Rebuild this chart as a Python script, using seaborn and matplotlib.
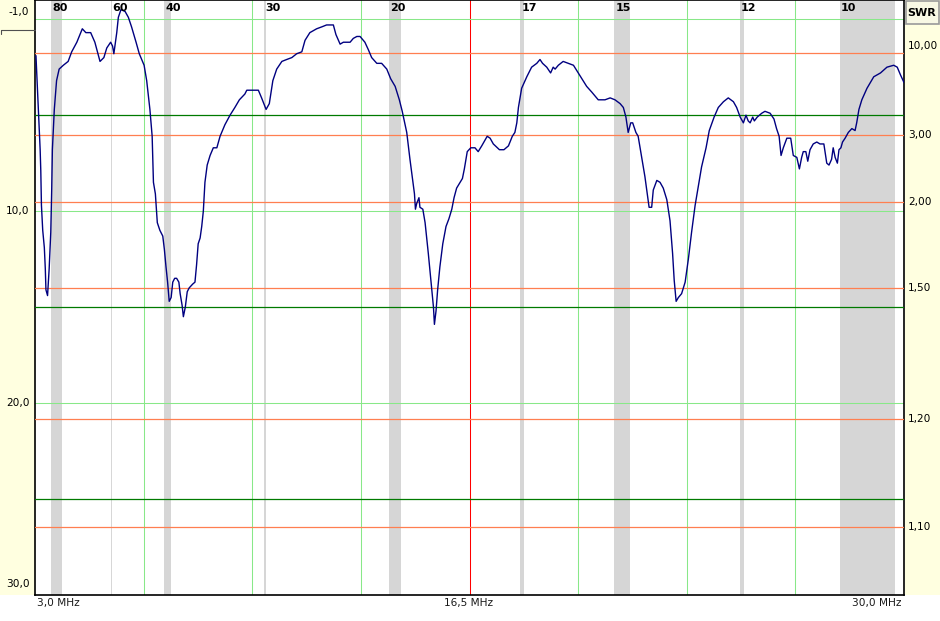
import numpy as np
import pandas as pd
import seaborn as sns
import matplotlib.pyplot as plt
from matplotlib.patches import Rectangle
from matplotlib.lines import Line2D

# Sweep: frequency (MHz) and return loss (dB)
freq_mhz = [
    3.03, 3.16, 3.18, 3.20, 3.24, 3.29, 3.32, 3.34, 3.39, 3.44, 3.49, 3.52, 3.54, 3.60, 3.67,
    3.75, 3.88, 4.03, 4.14, 4.30, 4.47, 4.58, 4.73, 4.86, 5.02, 5.14, 5.23, 5.35, 5.41, 5.45,
    5.49, 5.54, 5.59, 5.67, 5.80, 5.90, 6.00, 6.14, 6.24, 6.39, 6.47, 6.57, 6.64, 6.68, 6.74,
    6.80, 6.88, 6.97, 7.02, 7.07, 7.12, 7.17, 7.23, 7.28, 7.34, 7.40, 7.47, 7.51, 7.57, 7.61,
    7.67, 7.73, 7.79, 7.90, 7.97, 8.02, 8.07, 8.13, 8.18, 8.23, 8.28, 8.35, 8.44, 8.54, 8.65,
    8.75, 8.90, 9.06, 9.21, 9.35, 9.52, 9.58, 9.78, 9.94, 10.04, 10.18, 10.28, 10.39, 10.51, 10.67,
    10.82, 10.98, 11.13, 11.29, 11.39, 11.54, 11.75, 11.91, 12.06, 12.27, 12.35, 12.48, 12.58, 12.69, 12.79,
    12.89, 13.00, 13.10, 13.25, 13.36, 13.46, 13.62, 13.77, 13.93, 14.05, 14.19, 14.32, 14.41, 14.55, 14.65,
    14.72, 14.79, 14.82, 14.86, 14.93, 14.96, 15.05, 15.12, 15.22, 15.30, 15.34, 15.38, 15.41, 15.46, 15.51,
    15.58, 15.67, 15.77, 15.86, 15.95, 16.02, 16.10, 16.21, 16.28, 16.34, 16.43, 16.54, 16.67, 16.77, 16.88,
    16.98, 17.05, 17.14, 17.24, 17.43, 17.57, 17.71, 17.83, 17.91, 17.97, 18.02, 18.12, 18.28, 18.43, 18.59,
    18.69, 18.77, 18.90, 19.02, 19.10, 19.16, 19.26, 19.41, 19.57, 19.73, 19.88, 19.99, 20.14, 20.30, 20.50,
    20.71, 20.87, 21.02, 21.18, 21.28, 21.36, 21.43, 21.51, 21.57, 21.67, 21.74, 21.85, 21.95, 22.04, 22.08,
    22.16, 22.21, 22.32, 22.42, 22.52, 22.63, 22.73, 22.81, 22.86, 22.92, 22.99, 23.09, 23.20, 23.30, 23.40,
    23.51, 23.61, 23.71, 23.85, 23.95, 24.10, 24.23, 24.39, 24.54, 24.70, 24.80, 24.91, 25.01, 25.09, 25.16,
    25.22, 25.30, 25.35, 25.44, 25.58, 25.68, 25.84, 25.96, 26.04, 26.12, 26.18, 26.25, 26.36, 26.48, 26.56,
    26.67, 26.75, 26.82, 26.87, 26.95, 27.01, 27.08, 27.18, 27.29, 27.39, 27.51, 27.60, 27.67, 27.75, 27.80,
    27.86, 27.93, 27.98, 28.04, 28.09, 28.17, 28.27, 28.38, 28.48, 28.53, 28.60, 28.69, 28.85, 29.06, 29.27,
    29.47, 29.68, 29.79, 29.89, 30.00,
]
return_loss_db = [
    1.9, 6.8, 7.9, 9.7, 11.0, 11.9, 13.0, 14.1, 14.4, 13.0, 11.1, 8.8, 6.8, 4.7, 3.2,
    2.6, 2.4, 2.2, 1.7, 1.2, 0.5, 0.7, 0.7, 1.2, 2.2, 2.0, 1.5, 1.2, 1.4, 1.8,
    1.3, 0.7, -0.1, -0.5, -0.4, -0.1, 0.4, 1.2, 1.8, 2.4, 3.2, 4.7, 6.1, 8.5, 9.1,
    10.6, 11.0, 11.3, 12.0, 12.9, 13.7, 14.7, 14.5, 13.7, 13.5, 13.5, 13.7, 14.3, 14.9, 15.5,
    15.0, 14.2, 14.0, 13.8, 13.7, 12.8, 11.7, 11.4, 10.8, 10.0, 8.5, 7.6, 7.1, 6.7, 6.7,
    6.1, 5.5, 5.0, 4.6, 4.2, 3.9, 3.7, 3.7, 3.7, 4.1, 4.7, 4.4, 3.2, 2.6, 2.2,
    2.1, 2.0, 1.8, 1.7, 1.1, 0.7, 0.5, 0.4, 0.3, 0.3, 0.8, 1.3, 1.2, 1.2, 1.2,
    1.0, 0.9, 0.9, 1.2, 1.6, 2.0, 2.3, 2.3, 2.6, 3.1, 3.5, 4.2, 4.8, 5.9, 7.3,
    8.2, 9.1, 9.9, 9.6, 9.3, 9.8, 9.9, 10.6, 12.2, 13.6, 14.3, 15.0, 15.9, 15.2, 14.1,
    12.9, 11.7, 10.8, 10.4, 9.9, 9.3, 8.8, 8.5, 8.3, 7.8, 6.9, 6.7, 6.7, 6.9, 6.6,
    6.3, 6.1, 6.2, 6.5, 6.8, 6.8, 6.6, 6.1, 5.9, 5.4, 4.6, 3.6, 3.0, 2.5, 2.3,
    2.1, 2.3, 2.5, 2.8, 2.5, 2.6, 2.4, 2.2, 2.3, 2.4, 2.8, 3.1, 3.5, 3.8, 4.2,
    4.2, 4.1, 4.2, 4.4, 4.6, 5.1, 5.9, 5.4, 5.4, 5.9, 6.1, 7.2, 8.2, 9.3, 9.8,
    9.8, 8.9, 8.4, 8.5, 8.8, 9.4, 10.5, 12.2, 13.6, 14.7, 14.5, 14.3, 13.7, 12.5, 11.1,
    9.7, 8.7, 7.7, 6.7, 5.8, 5.1, 4.6, 4.3, 4.1, 4.3, 4.6, 5.1, 5.4, 5.0, 5.3,
    5.4, 5.1, 5.3, 5.1, 4.9, 4.8, 4.9, 5.2, 5.7, 6.1, 7.1, 6.7, 6.2, 6.2, 7.1,
    7.2, 7.8, 7.2, 6.9, 6.9, 7.4, 6.8, 6.5, 6.4, 6.5, 6.5, 7.5, 7.6, 7.3, 6.7,
    7.2, 7.5, 6.8, 6.7, 6.4, 6.2, 5.9, 5.7, 5.8, 5.4, 4.7, 4.2, 3.6, 3.0, 2.8,
    2.5, 2.4, 2.5, 2.9, 3.3,
]

# Amateur bands shaded on the chart
band_names = ["80", "60", "40", "30", "20", "17", "15", "12", "10"]
band_start = [3.5, 5.351, 7.0, 10.1, 14.0, 18.068, 21.0, 24.89, 28.0]
band_end = [3.8, 5.366, 7.2, 10.15, 14.35, 18.168, 21.45, 24.99, 29.7]

# Axis labels
rl_ticks = [-1, 10, 20, 30]
rl_tick_labels = ["-1,0", "10,0", "20,0", "30,0"]
freq_ticks = [3.0, 16.5, 30.0]
freq_tick_labels = ["3,0 MHz", "16,5 MHz", "30,0 MHz"]
swr_marks = [10.0, 3.0, 2.0, 1.5, 1.2, 1.1]
swr_labels = ["10,00", "3,00", "2,00", "1,50", "1,20", "1,10"]

f_min, f_max = 3.0, 30.0
rl_top, rl_bottom = -1, 30


def swr_to_rl(swr):
    return 20 * np.log10((swr + 1) / (swr - 1))


sns.set_style("white")
plt.rcParams["font.family"] = ["DejaVu Sans"]

W, H = 940, 621
fig = plt.figure(figsize=(W / 100, H / 100), dpi=100)
fig.patch.set_facecolor("white")

# Cream side panels (behind everything)
cream = "#FFFFE0"
fig.patches.append(Rectangle((0, 26 / H), 35 / W, 595 / H, transform=fig.transFigure,
                             facecolor=cream, edgecolor="none", zorder=-5))
fig.patches.append(Rectangle((905 / W, 26 / H), 35 / W, 595 / H, transform=fig.transFigure,
                             facecolor=cream, edgecolor="none", zorder=-5))

ax = fig.add_axes([35 / W, 26 / H, 869 / W, 595 / H])
ax.set_facecolor("white")

# Bands
for s, e in zip(band_start, band_end):
    ax.axvspan(s, e, facecolor="#D6D6D6", edgecolor="#D6D6D6", lw=0.7, zorder=1)

# Grid
v_grid = np.linspace(f_min, f_max, 9)[1:-1]
for v in v_grid:
    if np.isclose(v, 16.5):
        ax.axvline(v, color="#FF0000", lw=0.75, zorder=2)
    else:
        ax.axvline(v, color="#88E888", lw=0.75, zorder=2)
for h in [0, 10, 20]:
    ax.axhline(h, color="#88E888", lw=0.75, zorder=2)
for h in [5, 15, 25]:
    ax.axhline(h, color="#007A00", lw=0.9, zorder=3)
for s in swr_marks:
    ax.axhline(swr_to_rl(s), color="#FF7F50", lw=0.9, zorder=3)

# Sweep curve
df = pd.DataFrame({"freq": freq_mhz, "rl": return_loss_db})
sns.lineplot(data=df, x="freq", y="rl", ax=ax, color="#000080", lw=1.0,
             sort=False, estimator=None, zorder=4)

ax.set_xlim(f_min, f_max)
ax.set_ylim(rl_bottom, rl_top)
ax.set_xticks([])
ax.set_yticks([])
ax.set_xlabel(None)
ax.set_ylabel(None)
for sp in ax.spines.values():
    sp.set_color("black")
    sp.set_linewidth(1.2)
    sp.set_visible(True)

fs = 7.6
# Left return-loss labels
offsets = {0: -9, 3: 8}
for i, (t, lab) in enumerate(zip(rl_ticks, rl_tick_labels)):
    ax.annotate(lab, xy=(0, t), xycoords=("axes fraction", "data"),
                xytext=(-4, offsets.get(i, 0)), textcoords="offset points",
                ha="right", va="center", fontsize=fs, color="black",
                annotation_clip=False)

# Frequency labels
for i, (t, lab) in enumerate(zip(freq_ticks, freq_tick_labels)):
    ha = ["left", "center", "right"][i]
    dx = [1.5, -1, -1.5][i]
    ax.annotate(lab, xy=(t, 0), xycoords=("data", "axes fraction"),
                xytext=(dx, -6), textcoords="offset points",
                ha=ha, va="center", fontsize=fs, color="#1A1A1A",
                annotation_clip=False)

# Right SWR labels
for s, lab in zip(swr_marks, swr_labels):
    dy = 4.5 if s == 10.0 else 0
    ax.annotate(lab, xy=(1, swr_to_rl(s)), xycoords=("axes fraction", "data"),
                xytext=(3, dy), textcoords="offset points",
                ha="left", va="center", fontsize=fs, color="black",
                annotation_clip=False)

# Band names along the top
for s, name in zip(band_start, band_names):
    ax.annotate(name, xy=(s, 1), xycoords=("data", "axes fraction"),
                xytext=(1, -5.5), textcoords="offset points",
                ha="left", va="center", fontsize=8, fontweight="bold", color="black",
                zorder=6)

# SWR header box
fig.patches.append(Rectangle((905.5 / W, (H - 24) / H), 33 / W, 23 / H, transform=fig.transFigure,
                             facecolor="#F8F8E4", edgecolor="#9A9A9A", lw=1.2, zorder=2))
fig.text(922 / W, (H - 13) / H, "SWR", ha="center", va="center", fontsize=8,
         fontweight="bold", color="black")

# Little bracket under the top-left label
fig.lines.append(Line2D([0.5 / W, 35 / W], [(H - 30) / H, (H - 30) / H],
                        transform=fig.transFigure, color="#505050", lw=0.8))
fig.lines.append(Line2D([0.5 / W, 0.5 / W], [(H - 30) / H, (H - 34) / H],
                        transform=fig.transFigure, color="#505050", lw=0.8))

fig.savefig("out.png", dpi=100)
